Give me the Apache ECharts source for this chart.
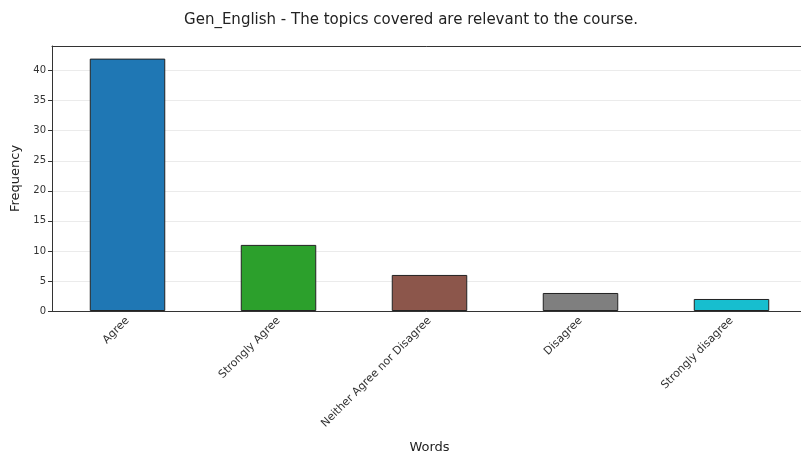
<!DOCTYPE html>
<html><head><meta charset="utf-8">
<script src="https://cdn.jsdelivr.net/npm/echarts@6/dist/echarts.min.js"></script>
<style>html,body{margin:0;padding:0;background:#fff}#c{width:801px;height:462px}</style>
</head><body><div id="c"></div>
<script>
const categories = ["Agree", "Strongly Agree", "Neither Agree nor Disagree", "Disagree", "Strongly disagree"];
const values = [42, 11, 6, 3, 2];
const colors = ["#1f77b4", "#2ca02c", "#8c564b", "#7f7f7f", "#17becf"];
const titleText = "Gen_English - The topics covered are relevant to the course.";
const font = "DejaVu Sans";
const chart = echarts.init(document.getElementById('c'));
chart.setOption({
  animation: false,
  title: {text: titleText, left: 406, top: 8, textAlign: 'center',
    textStyle: {fontFamily: font, fontSize: 15, fontWeight: 'normal', color: '#222'}},
  grid: {left: 52, top: 46, width: 755, height: 265, show: false,
    outerBoundsMode: 'none', containLabel: false},
  xAxis: [{type: 'category', data: categories, name: 'Words', nameLocation: 'middle', nameGap: 130,
    nameTextStyle: {fontFamily: font, fontSize: 13, color: '#222'},
    axisLine: {lineStyle: {color: '#333'}},
    axisTick: {alignWithLabel: true, length: 4, lineStyle: {color: '#333'}},
    axisLabel: {rotate: 45, fontFamily: font, fontSize: 11, color: '#333', margin: 8, interval: 0}},
    {type: 'category', data: categories, position: 'top', axisLine: {show: true, lineStyle: {color: '#333'}},
     axisTick: {show: false}, axisLabel: {show: false}, splitLine: {show: false}}],
  yAxis: {type: 'value', min: 0, max: 44.1, interval: 5, name: 'Frequency', nameLocation: 'middle', nameGap: 28,
    nameTextStyle: {fontFamily: font, fontSize: 13, color: '#222'},
    axisLine: {show: true, lineStyle: {color: '#333'}},
    axisTick: {show: true, length: 4, lineStyle: {color: '#333'}},
    axisLabel: {fontFamily: font, fontSize: 10, color: '#333', margin: 6, showMaxLabel: false,
      formatter: v => (v % 5 === 0 ? String(v) : '')},
    splitLine: {show: true, lineStyle: {color: '#ebebeb', width: 1}}},
  series: [{type: 'bar', barWidth: '50%', xAxisIndex: 0,
    data: values.map((v, i) => ({value: v, itemStyle: {color: colors[i], borderColor: '#222', borderWidth: 1}}))}]
});
</script></body></html>
